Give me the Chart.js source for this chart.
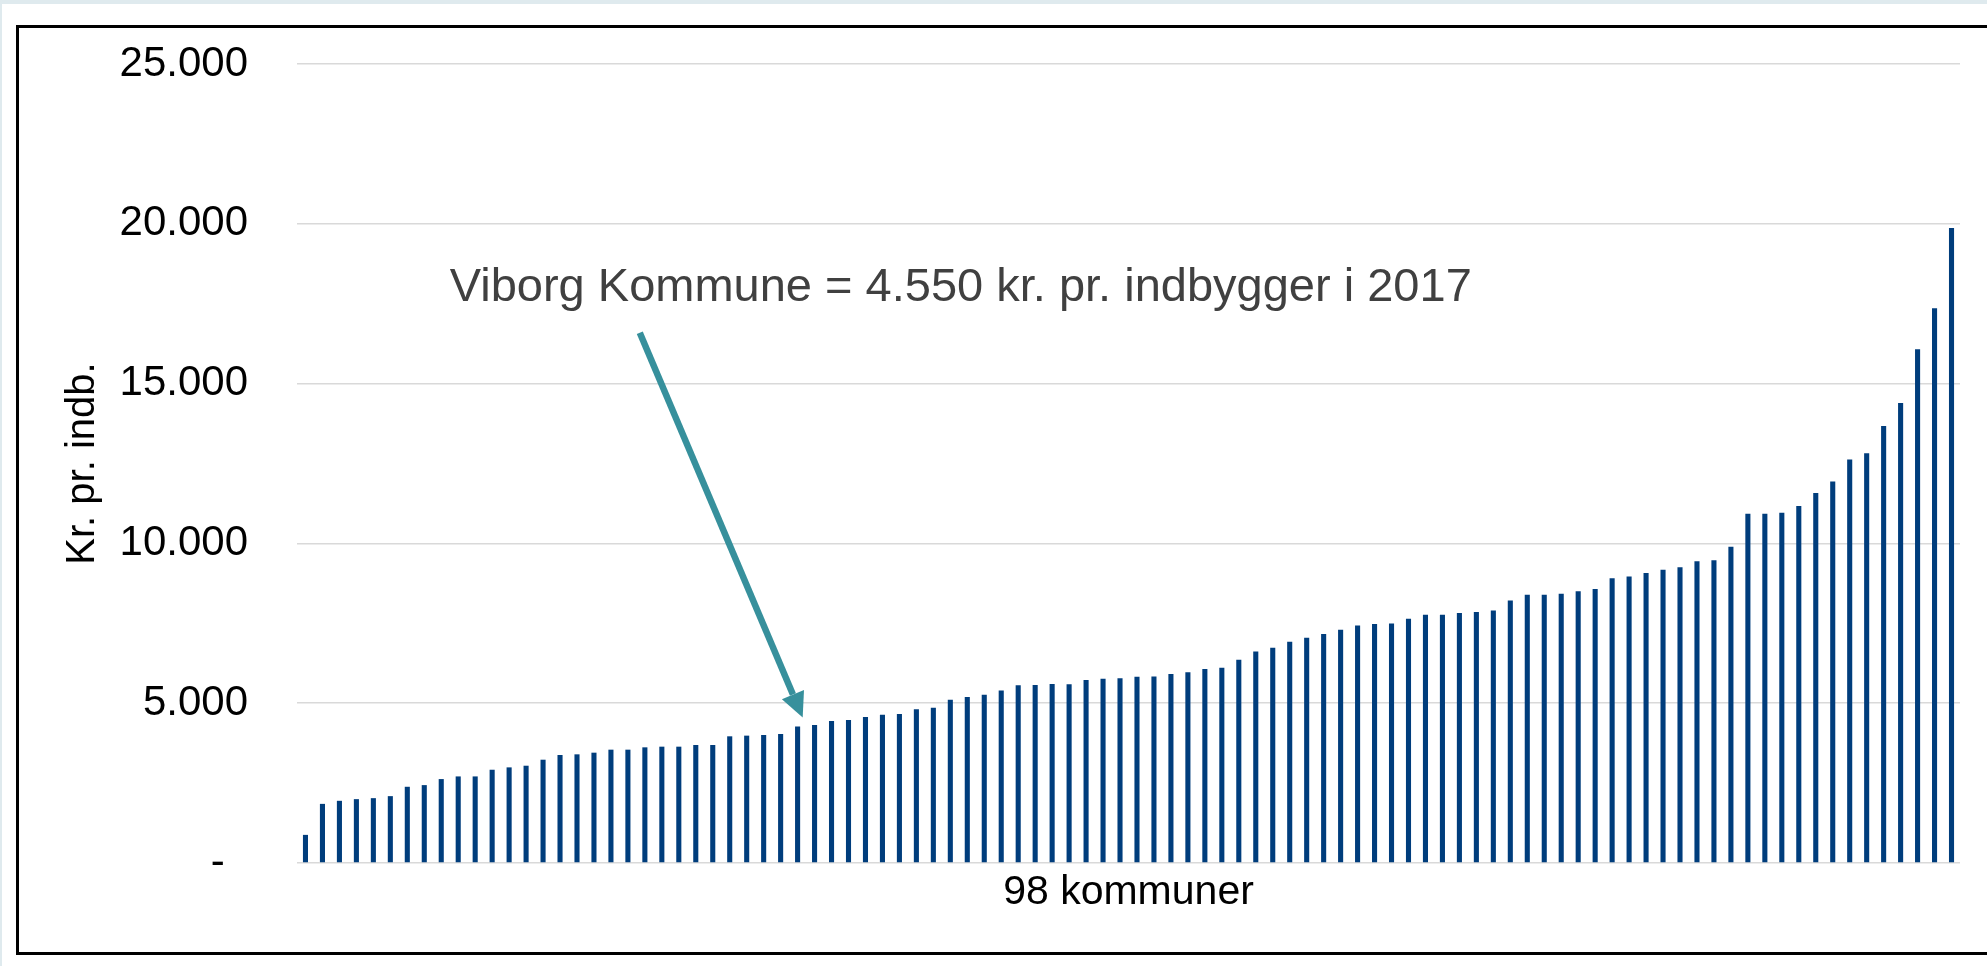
<!DOCTYPE html>
<html>
<head>
<meta charset="utf-8">
<script src="https://cdn.jsdelivr.net/npm/chart.js@4/dist/chart.umd.min.js"></script>
<style>
  html, body { margin: 0; padding: 0; }
  body { width: 1987px; height: 966px; overflow: hidden; background: #dfeaee; position: relative; }
  #paper { position: absolute; left: 2px; top: 4px; right: 0; bottom: 0; background: #fff; }
  #frame { position: absolute; left: 16px; top: 25px; width: 2000px; height: 924px; border: 3px solid #000; }
  #chart { position: absolute; left: 0; top: 0; }
</style>
</head>
<body>
<div id="paper"></div>
<div id="frame"></div>
<canvas id="chart" width="1987" height="966"></canvas>
<script>
// udgift pr. indbygger, sorteret (98 kommuner)
const kommuner = Array.from({ length: 98 }, (_, i) => String(i + 1))
const krPrIndb = [
  880, 1850, 1946, 1998, 2029, 2092, 2385, 2437, 2626, 2709,
  2709, 2918, 2992, 3044, 3232, 3379, 3400, 3452, 3546, 3546,
  3619, 3640, 3640, 3692, 3692, 3964, 3985, 4006, 4038, 4268,
  4320, 4440, 4473, 4567, 4640, 4661, 4807, 4859, 5109, 5193,
  5266, 5401, 5558, 5568, 5600, 5595, 5725, 5766, 5777, 5829,
  5839, 5912, 5965, 6069, 6110, 6361, 6621, 6736, 6924, 7049,
  7164, 7299, 7435, 7480, 7496, 7646, 7766, 7766, 7826, 7856,
  7901, 8216, 8396, 8396, 8426, 8501, 8576, 8906, 8966, 9070,
  9175, 9250, 9445, 9475, 9895, 10930, 10930, 10960, 11169, 11574,
  11934, 12624, 12819, 13673, 14393, 16072, 17361, 19865
]
const yTickLabels = ['-', '5.000', '10.000', '15.000', '20.000', '25.000']

// annotation
const viborgLabel = 'Viborg Kommune = 4.550 kr. pr. indbygger i 2017'
const viborgValue = 4550
const labelAt = { index: 8.5, value: 17594 }
const arrowTail = { index: 19.7, value: 16594 }
const arrowTip = { index: 29.3, value: viborgValue }

const FONT = "'Liberation Sans', Arial, sans-serif"

const viborgArrow = {
  id: 'viborgArrow',
  afterDatasetsDraw(chart) {
    const { ctx, scales: { x, y } } = chart
    ctx.save()
    ctx.font = `47px ${FONT}`
    ctx.fillStyle = '#404040'
    ctx.textBaseline = 'alphabetic'
    ctx.textAlign = 'left'
    ctx.fillText(viborgLabel, x.getPixelForValue(labelAt.index), y.getPixelForValue(labelAt.value))

    const x0 = x.getPixelForValue(arrowTail.index)
    const y0 = y.getPixelForValue(arrowTail.value)
    const x1 = x.getPixelForValue(arrowTip.index)
    const y1 = y.getPixelForValue(arrowTip.value)
    const ang = Math.atan2(y1 - y0, x1 - x0)
    const headLen = 25
    const headHalf = 12
    const bx = x1 - Math.cos(ang) * headLen
    const by = y1 - Math.sin(ang) * headLen

    ctx.strokeStyle = '#37909c'
    ctx.fillStyle = '#37909c'
    ctx.lineWidth = 6.5
    ctx.beginPath()
    ctx.moveTo(x0, y0)
    ctx.lineTo(bx, by)
    ctx.stroke()

    ctx.beginPath()
    ctx.moveTo(x1, y1)
    ctx.lineTo(bx + Math.sin(ang) * headHalf, by - Math.cos(ang) * headHalf)
    ctx.lineTo(bx - Math.sin(ang) * headHalf, by + Math.cos(ang) * headHalf)
    ctx.closePath()
    ctx.fill()
    ctx.restore()
  }
}

new Chart(document.getElementById('chart').getContext('2d'), {
  type: 'bar',
  data: {
    labels: kommuner,
    datasets: [
      {
        label: 'Kr. pr. indb.',
        data: krPrIndb,
        backgroundColor: '#003d7c',
        borderWidth: 0,
        barPercentage: 0.3,
        categoryPercentage: 1.0
      }
    ]
  },
  options: {
    responsive: false,
    animation: false,
    layout: {
      padding: { top: 64, right: 27, left: 0, bottom: 0 }
    },
    plugins: {
      legend: { display: false },
      tooltip: { enabled: false }
    },
    scales: {
      x: {
        grid: { display: false },
        border: { display: false },
        ticks: { display: false },
        title: {
          display: true,
          text: '98 kommuner',
          color: '#000',
          font: { family: FONT, size: 41 },
          padding: { top: 0, bottom: 49 }
        },
        afterFit: (scale) => { scale.height = 103 }
      },
      y: {
        min: 0,
        max: 25000,
        border: { display: false },
        grid: { color: '#d9d9d9', lineWidth: 1.5, drawTicks: false },
        ticks: {
          stepSize: 5000,
          padding: 49,
          color: '#000',
          font: { family: FONT, size: 42 },
          callback: (value) => {
            const label = yTickLabels[Math.round(value / 5000)]
            return value === 0 ? label + '  ' : label
          }
        },
        title: {
          display: true,
          text: 'Kr. pr. indb.',
          color: '#000',
          font: { family: FONT, size: 40 },
          padding: { top: 59, bottom: 0 }
        },
        afterFit: (scale) => {
          scale.width = 297
          // tick padding should not push the plot area down
          scale.paddingTop = 0
          scale.paddingBottom = 0
        }
      }
    }
  },
  plugins: [viborgArrow]
})
</script>
</body>
</html>
